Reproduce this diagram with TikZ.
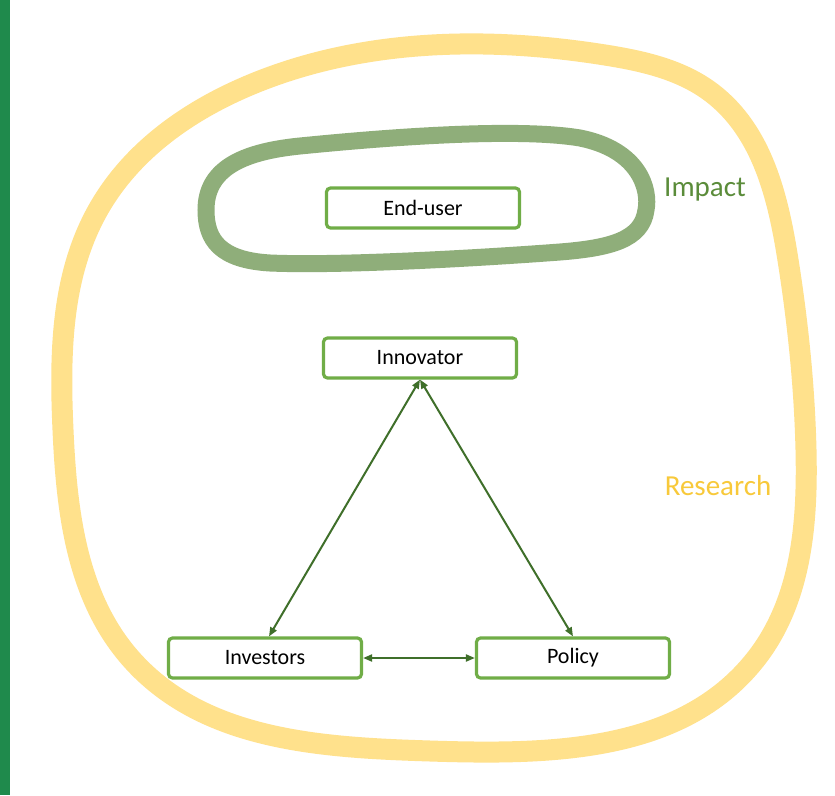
\documentclass[tikz,border=0pt]{standalone}
\usepackage{fontspec}
\setmainfont{Carlito}
\usetikzlibrary{arrows.meta,hobby}
\definecolor{barGreen}{HTML}{1F8A4C}
\definecolor{boxGreen}{HTML}{70AD47}
\definecolor{loopYellow}{HTML}{FFE18C}
\definecolor{loopGreen}{HTML}{8FAE7A}
\definecolor{impactText}{HTML}{5B8C3A}
\definecolor{researchText}{HTML}{F8C93A}
\definecolor{arrowGreen}{HTML}{3F6F2A}
\tikzset{
  actor/.style={draw=boxGreen, line width=3.2pt, rounded corners=4pt, fill=white,
    minimum width=193pt, minimum height=40pt, inner sep=0pt,
    font=\fontsize{22}{26}\selectfont},
  link/.style={draw=arrowGreen, line width=2pt,
    {Triangle[length=9pt,width=7pt]}-{Triangle[length=9pt,width=7pt]}},
  biglabel/.style={font=\fontsize{29}{34}\selectfont, anchor=center}
}
\begin{document}
\begin{tikzpicture}[x=1pt,y=-1pt]
\useasboundingbox (0,0) rectangle (835,795);
\fill[white] (0,0) rectangle (835,795);
\fill[barGreen] (0,0) rectangle (10,795);
% Research loop
\draw[loopYellow, line width=21pt, use Hobby shortcut, closed=true]
 (460,44) .. (605,55) .. (712,93) .. (788,260) .. (806,450) .. (755,660) .. (430,751) ..
 (132,660) .. (63,430) .. (98,210) .. (250,85);
% Impact loop
\draw[loopGreen, line width=17pt]
 (206,210) .. controls (206,170) and (240,152) .. (300,146)
 .. controls (400,136) and (520,128) .. (580,138)
 .. controls (640,150) and (650,190) .. (646,210)
 .. controls (642,240) and (610,248) .. (560,252)
 .. controls (480,258) and (340,266) .. (270,263)
 .. controls (220,260) and (206,240) .. (206,210) -- cycle;
\node[actor] (end) at (423,208) {End-user};
\node[actor] (inn) at (420,358) {Innovator};
\node[actor] (inv) at (265,658) {Investors};
\node[actor] (pol) at (573,658) {Policy};
\node[biglabel, text=impactText] (impact) at (705,190) {Impact};
\node[biglabel, text=researchText] (research) at (718,486) {Research};
\draw[link] (inn.south) -- ([xshift=4pt]inv.north);
\draw[link] (inn.south) -- (pol.north);
\draw[link] (inv.east) -- (pol.west);
\end{tikzpicture}
\end{document}
